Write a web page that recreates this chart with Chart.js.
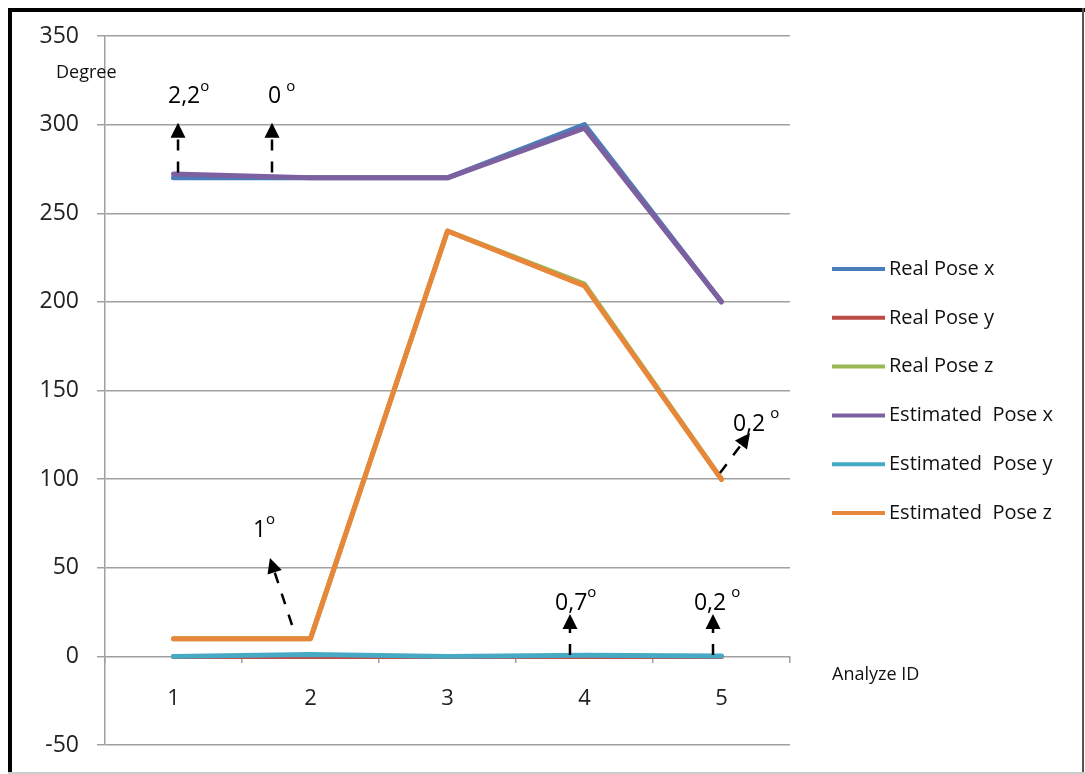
<!DOCTYPE html>
<html>
<head>
<meta charset="utf-8">
<script src="https://cdn.jsdelivr.net/npm/chart.js@4/dist/chart.umd.min.js"></script>
<style>
  html, body { margin: 0; padding: 0; background: #fff; }
  #wrap { position: relative; width: 1085px; height: 774px; }
</style>
</head>
<body>
<div id="wrap"><canvas id="chart"></canvas></div>
<script>
const categories = ["1", "2", "3", "4", "5"]
const realPoseX = [270, 270, 270, 300, 200]
const realPoseY = [0, 0, 0, 0, 0]
const realPoseZ = [10, 10, 240, 210, 100]
const estPoseX = [272.2, 270, 270, 298, 200]
const estPoseY = [0, 1, 0, 0.7, 0.2]
const estPoseZ = [10, 10, 240, 209, 99.8]
const yTicks = [-50, 0, 50, 100, 150, 200, 250, 300, 350]

// arrows with error labels, in (category index, value) units
const notes = [
  { label: "2,2", gap: 0, tail: [0.033, 273], tip: [0.033, 301], text: [-0.04, 316] },
  { label: "0", gap: 5, tail: [0.719, 273], tip: [0.719, 301], text: [0.69, 316] },
  { label: "1", gap: 0, tail: [0.865, 17.7], tip: [0.704, 55.5], text: [0.58, 71.3] },
  { label: "0,7", gap: 0, tail: [2.894, 0.8], tip: [2.894, 23.9], text: [2.785, 30.1] },
  { label: "0,2", gap: 5, tail: [3.938, 0.8], tip: [3.938, 23.9], text: [3.799, 30.1] },
  { label: "0,2", gap: 5, tail: [3.989, 103.5], tip: [4.208, 126], text: [4.084, 131] },
]

const FONT = '"Open Sans", "DejaVu Sans", sans-serif'

const line = (label, data, color, order) => ({
  label, data,
  borderColor: color,
  backgroundColor: color,
  borderWidth: 5,
  pointRadius: 0,
  tension: 0,
  borderJoinStyle: "round",
  borderCapStyle: "round",
  order,
})

const frame = {
  id: "frame",
  beforeDraw(chart) {
    const ctx = chart.ctx
    ctx.save()
    ctx.fillStyle = "#fff"
    ctx.fillRect(0, 0, chart.width, chart.height)
    ctx.restore()
  },
  afterDraw(chart) {
    const ctx = chart.ctx
    ctx.save()
    ctx.fillStyle = "#000"
    ctx.fillRect(8, 8, chart.width - 8, 4)
    ctx.fillRect(8, 8, 4, chart.height - 8)
    ctx.fillStyle = "#555"
    ctx.fillRect(chart.width - 3, 8, 2, chart.height - 8)
    ctx.fillStyle = "#ccc"
    ctx.fillRect(8, chart.height - 2, chart.width - 8, 2)
    ctx.restore()
  },
}

const labelsAndLegend = {
  id: "labelsAndLegend",
  afterDraw(chart) {
    const ctx = chart.ctx
    ctx.save()
    ctx.fillStyle = "#111"
    ctx.textBaseline = "middle"
    ctx.textAlign = "left"
    ctx.font = "18px " + FONT
    ctx.fillText("Degree", 56, 73)
    ctx.fillText("Analyze ID", 832, 675)

    // legend
    ctx.font = "20px " + FONT
    chart.data.datasets.forEach((ds, i) => {
      const yy = 269 + i * 48.8
      ctx.strokeStyle = ds.borderColor
      ctx.lineWidth = 4
      ctx.beginPath()
      ctx.moveTo(832, yy)
      ctx.lineTo(885, yy)
      ctx.stroke()
      ctx.fillStyle = "#111"
      ctx.fillText(ds.label, 889, yy)
    })
    ctx.restore()
  },
}

const arrows = {
  id: "arrows",
  afterDatasetsDraw(chart) {
    const { ctx, scales: { x, y } } = chart
    const x0 = x.getPixelForValue(0)
    const step = x.getPixelForValue(1) - x0
    const px = i => x0 + i * step
    ctx.save()
    notes.forEach(n => {
      const tx = px(n.tail[0]), ty = y.getPixelForValue(n.tail[1])
      const hx = px(n.tip[0]), hy = y.getPixelForValue(n.tip[1])
      const ang = Math.atan2(hy - ty, hx - tx)
      const headLen = 15, headW = 7.5
      const bx = hx - headLen * Math.cos(ang)
      const by = hy - headLen * Math.sin(ang)

      ctx.strokeStyle = "#000"
      ctx.lineWidth = 2.5
      ctx.setLineDash([11, 11])
      ctx.beginPath()
      ctx.moveTo(tx, ty)
      ctx.lineTo(bx, by)
      ctx.stroke()
      ctx.setLineDash([])

      ctx.fillStyle = "#000"
      ctx.beginPath()
      ctx.moveTo(hx, hy)
      ctx.lineTo(bx + headW * Math.sin(ang), by - headW * Math.cos(ang))
      ctx.lineTo(bx - headW * Math.sin(ang), by + headW * Math.cos(ang))
      ctx.closePath()
      ctx.fill()

      const lx = px(n.text[0]), ly = y.getPixelForValue(n.text[1])
      ctx.textAlign = "left"
      ctx.textBaseline = "middle"
      ctx.font = "23px " + FONT
      ctx.fillText(n.label, lx, ly)
      const w = ctx.measureText(n.label).width
      ctx.font = "15px " + FONT
      ctx.fillText("o", lx + w + n.gap, ly - 10)
    })
    ctx.restore()
  },
}

new Chart(document.getElementById("chart"), {
  type: "line",
  data: {
    labels: categories,
    datasets: [
      line("Real Pose x", realPoseX, "#4A7EBB", 1),
      line("Real Pose y", realPoseY, "#BE4B48", 1),
      line("Real Pose z", realPoseZ, "#98B954", 1),
      line("Estimated  Pose x", estPoseX, "#7D60A0", 0),
      line("Estimated  Pose y", estPoseY, "#46AAC5", 0),
      line("Estimated  Pose z", estPoseZ, "#E8873A", 0),
    ],
  },
  options: {
    responsive: true,
    maintainAspectRatio: false,
    animation: false,
    layout: { padding: { left: 0, top: 36, right: 295, bottom: 29 } },
    plugins: {
      legend: { display: false },
      tooltip: { enabled: false },
    },
    scales: {
      x: {
        type: "category",
        position: { y: 0 },
        offset: true,
        grid: {
          offset: true,
          drawOnChartArea: false,
          drawTicks: true,
          tickLength: 7,
          color: "#a0a0a0",
          lineWidth: 1.5,
        },
        border: { display: false },
        ticks: {
          padding: 22,
          color: "#222",
          font: { family: FONT, size: 22 },
          maxRotation: 0,
        },
        afterFit: axis => {
          axis.height = 0
          axis.paddingLeft = 0
          axis.paddingRight = 0
        },
      },
      y: {
        min: -50,
        max: 350,
        afterBuildTicks: axis => { axis.ticks = yTicks.map(v => ({ value: v })) },
        grid: { color: "#a0a0a0", lineWidth: 1.5, tickLength: 8 },
        border: { display: true, color: "#a0a0a0", width: 1.5 },
        ticks: {
          padding: 18,
          color: "#222",
          font: { family: FONT, size: 23 },
        },
        afterFit: axis => {
          axis.width = 105
          axis.paddingTop = 0
          axis.paddingBottom = 0
        },
      },
    },
  },
  plugins: [frame, arrows, labelsAndLegend],
})
</script>
</body>
</html>
